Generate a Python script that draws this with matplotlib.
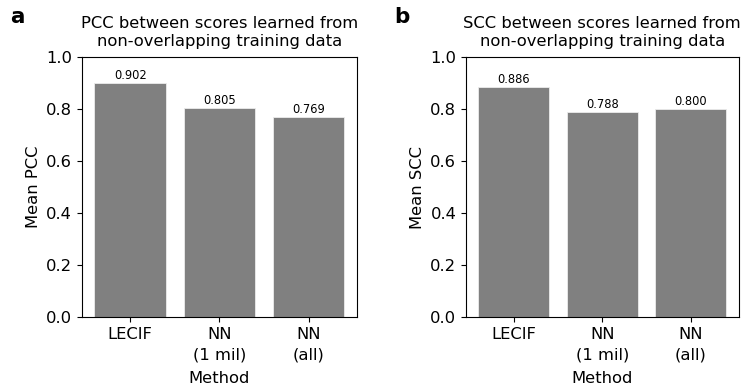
import matplotlib
matplotlib.use("Agg")
import matplotlib.pyplot as plt

methods = ["LECIF", "NN\n(1 mil)", "NN\n(all)"]
pcc_values = [0.902, 0.805, 0.769]
scc_values = [0.886, 0.788, 0.800]
value_labels_pcc = ["0.902", "0.805", "0.769"]
value_labels_scc = ["0.886", "0.788", "0.800"]

fig = plt.figure(figsize=(7.45, 3.89), dpi=100)
ax1 = fig.add_axes([0.110, 0.185, 0.369, 0.668])
ax2 = fig.add_axes([0.6255, 0.185, 0.366, 0.668])

fs = 11.8

panels = [
    (ax1, pcc_values, value_labels_pcc, "PCC"),
    (ax2, scc_values, value_labels_scc, "SCC"),
]

for ax, vals, labs, metric in panels:
    x = list(range(len(methods)))
    bars = ax.bar(x, vals, width=0.8, color="#808080",
                  edgecolor="#ececec", linewidth=0.6)
    for b, lab in zip(bars, labs):
        ax.text(b.get_x() + b.get_width() / 2, b.get_height() + 0.004, lab,
                ha="center", va="bottom", fontsize=8.3)
    ax.set_xticks(x)
    ax.set_xticklabels(methods, fontsize=fs, linespacing=1.45)
    ax.set_ylim(0, 1.0)
    ax.set_yticks([0, 0.2, 0.4, 0.6, 0.8, 1.0])
    ax.set_yticklabels(["0.0", "0.2", "0.4", "0.6", "0.8", "1.0"], fontsize=fs)
    ax.set_xlim(-0.54, 2.54)
    ax.set_xlabel("Method", fontsize=fs, labelpad=6.5)
    ax.set_ylabel("Mean " + metric, fontsize=fs)
    ax.set_title(metric + " between scores learned from\nnon-overlapping training data",
                 fontsize=fs, pad=8, linespacing=1.28)

fig.text(0.013, 0.957, "a", fontsize=15.5, fontweight="bold", va="center")
fig.text(0.529, 0.957, "b", fontsize=15.5, fontweight="bold", va="center")

fig.savefig("out.png", dpi=100)
